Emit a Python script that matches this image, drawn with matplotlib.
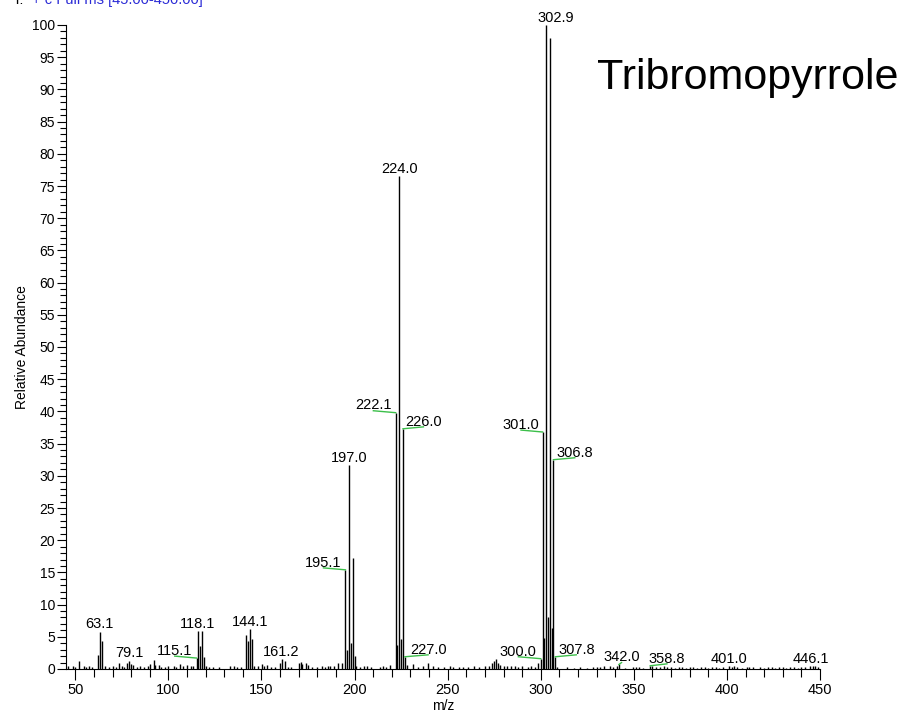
import matplotlib
matplotlib.use("Agg")
import matplotlib.pyplot as plt
from matplotlib.ticker import MultipleLocator
import numpy as np

plt.rcParams['font.family'] = ['Liberation Sans', 'DejaVu Sans']

# spectrum: m/z and relative abundance
mz = [45.9, 48.8, 50.1, 52.0, 54.5, 55.9, 57.2, 59.0, 62.0, 63.1,
      64.1, 66.1, 68.0, 70.0, 72.0, 73.3, 75.0, 76.0, 78.0, 79.1,
      80.0, 81.0, 83.0, 85.0, 87.0, 89.0, 90.3, 92.0, 93.0, 94.7,
      96.0, 98.0, 100.0, 102.8, 104.0, 106.4, 108.0, 110.0, 112.0, 113.0,
      115.1, 116.1, 117.1, 118.1, 119.1, 120.0, 122.0, 124.0, 127.0, 133.0,
      135.0, 137.0, 139.0, 141.9, 143.0, 144.1, 145.1, 146.2, 148.0, 150.4,
      151.5, 153.0, 155.0, 157.0, 159.9, 161.2, 162.9, 164.0, 166.0, 170.0,
      171.0, 172.0, 174.0, 175.0, 177.0, 180.0, 182.6, 184.0, 185.5, 187.0,
      189.0, 191.0, 193.2, 195.1, 196.0, 197.0, 198.0, 199.0, 200.0, 201.0,
      203.0, 205.0, 206.6, 209.0, 213.7, 215.4, 217.0, 219.0, 222.1, 223.0,
      224.0, 225.0, 226.0, 227.0, 228.0, 231.3, 234.0, 236.9, 239.5, 242.0,
      245.0, 248.0, 251.0, 253.0, 256.0, 258.0, 261.0, 264.0, 267.0, 270.0,
      272.0, 274.0, 275.0, 276.0, 277.0, 278.0, 280.0, 282.0, 284.0, 286.0,
      288.0, 290.0, 293.0, 295.0, 297.0, 298.6, 300.0, 301.0, 301.9, 302.9,
      303.9, 304.9, 305.9, 306.8, 307.8, 309.0, 314.0, 318.0, 321.0, 325.0,
      328.0, 330.0, 332.0, 334.0, 337.0, 339.0, 340.8, 342.0, 345.0, 349.6,
      351.0, 353.0, 355.0, 358.8, 360.0, 362.0, 364.0, 366.0, 368.0, 370.0,
      372.0, 374.0, 376.0, 378.0, 380.0, 382.0, 384.0, 386.0, 388.0, 390.0,
      392.0, 394.0, 396.0, 398.0, 401.0, 402.5, 404.0, 405.5, 408.0, 410.8,
      412.0, 414.0, 418.0, 420.0, 422.0, 424.0, 426.0, 428.0, 430.0, 432.0,
      434.0, 436.0, 438.0, 440.0, 442.0, 444.6, 446.1, 447.5, 449.0]
abundance = [0.4, 0.5, 0.3, 1.3, 0.5, 0.3, 0.4, 0.3, 2.1, 5.8,
             4.4, 0.5, 0.3, 0.4, 0.3, 1.0, 0.4, 0.3, 0.9, 1.3,
             0.8, 0.6, 0.3, 0.4, 0.3, 0.5, 0.8, 1.4, 0.6, 0.6,
             0.3, 0.3, 0.4, 0.5, 0.3, 0.8, 0.4, 0.6, 0.4, 0.5,
             1.7, 5.9, 3.5, 5.9, 1.8, 0.5, 0.3, 0.3, 0.3, 0.5,
             0.5, 0.3, 0.3, 5.3, 4.4, 6.2, 4.6, 0.5, 0.4, 0.8,
             0.5, 0.6, 0.3, 0.3, 0.9, 1.6, 1.3, 0.3, 0.3, 0.9,
             1.1, 0.8, 0.9, 0.6, 0.3, 0.3, 0.4, 0.3, 0.5, 0.4,
             0.5, 1.0, 0.9, 15.4, 3.0, 31.7, 4.0, 17.3, 2.0, 0.5,
             0.3, 0.5, 0.4, 0.3, 0.3, 0.4, 0.3, 0.6, 39.8, 3.7,
             76.5, 4.6, 37.3, 1.9, 0.6, 0.8, 0.3, 0.4, 1.0, 0.4,
             0.3, 0.3, 0.4, 0.3, 0.3, 0.3, 0.3, 0.4, 0.3, 0.4,
             0.5, 0.9, 1.2, 1.5, 0.9, 0.6, 0.5, 0.5, 0.4, 0.5,
             0.3, 0.4, 0.3, 0.5, 0.3, 1.0, 1.6, 36.8, 4.8, 100.0,
             8.0, 98.0, 6.4, 32.5, 1.9, 0.3, 0.3, 0.2, 0.3, 0.2,
             0.3, 0.3, 0.3, 0.4, 0.4, 0.3, 0.5, 0.7, 0.2, 0.3,
             0.3, 0.3, 0.2, 0.5, 0.4, 0.3, 0.3, 0.4, 0.3, 0.3,
             0.2, 0.3, 0.3, 0.2, 0.3, 0.3, 0.2, 0.3, 0.3, 0.2,
             0.3, 0.3, 0.2, 0.3, 0.5, 0.3, 0.4, 0.3, 0.2, 0.3,
             0.3, 0.3, 0.3, 0.2, 0.3, 0.3, 0.2, 0.3, 0.3, 0.2,
             0.3, 0.3, 0.2, 0.3, 0.3, 0.4, 0.5, 0.4, 0.3]

# labelled peaks
peak_labels = ["63.1", "79.1", "115.1", "118.1", "144.1", "161.2", "195.1",
               "197.0", "222.1", "224.0", "226.0", "227.0", "300.0", "301.0",
               "302.9", "306.8", "307.8", "342.0", "358.8", "401.0", "446.1"]

# where the label text sits relative to its peak (m/z units), and which get a leader
label_shift = {"115.1": -11.7, "118.1": -2.5, "161.2": -0.9, "195.1": -11.8,
               "222.1": -12.0, "226.0": 11.0, "227.0": 12.5, "300.0": -12.0,
               "301.0": -11.6, "302.9": 5.0, "306.8": 11.5, "307.8": 11.3,
               "342.0": 1.4, "358.8": 9.0, "446.1": -1.0}
leaders = {"115.1", "195.1", "222.1", "226.0", "227.0", "300.0", "301.0",
           "306.8", "307.8", "342.0", "358.8"}

fs = 10.5
fig = plt.figure(figsize=(9.09, 7.13), dpi=100)
ax = fig.add_axes([66 / 909, 1 - 669 / 713, (820 - 66) / 909, (669 - 25) / 713])

ax.vlines(mz, 0, abundance, color="black", lw=1.0)

for lab in peak_labels:
    x = float(lab)
    h = abundance[mz.index(x)]
    dx = label_shift.get(lab, 0.0)
    ax.annotate(lab, xy=(x + dx, h), xytext=(0, 2.3), textcoords="offset points",
                ha="center", va="baseline", fontsize=fs, annotation_clip=False)
    if lab in leaders:
        ax.plot([x + dx, x], [h + 0.3, h], color="#3cbf4a", lw=1.0, clip_on=False)

ax.set_xlim(45, 450)
ax.set_ylim(0, 100)
ax.xaxis.set_major_locator(MultipleLocator(50))
ax.xaxis.set_minor_locator(MultipleLocator(10))
ax.yaxis.set_major_locator(MultipleLocator(5))
ax.yaxis.set_minor_locator(MultipleLocator(1))
ax.tick_params(axis="x", which="major", direction="out", length=8, width=0.8, pad=2, labelsize=fs)
ax.tick_params(axis="x", which="minor", direction="out", length=5.5, width=0.8)
ax.tick_params(axis="y", which="major", direction="out", length=6.5, width=0.8, pad=1.5, labelsize=10)
ax.tick_params(axis="y", which="minor", direction="out", length=4.5, width=0.8)

for side in ["top", "right"]:
    ax.spines[side].set_visible(False)
for side in ["left", "bottom"]:
    ax.spines[side].set_linewidth(0.8)

ax.set_xlabel("m/z", fontsize=10)
ax.set_ylabel("Relative Abundance", fontsize=10)
ax.xaxis.set_label_coords(0.5, -0.046)
ax.yaxis.set_label_coords(-0.049, 0.5)

# scan header, cut off at the top edge like the original export
fig.text(13 / 909, 1 - 4 / 713, "T:", fontsize=fs, color="black", va="baseline")
fig.text(32 / 909, 1 - 4 / 713, "+ c Full ms [45.00-450.00]", fontsize=fs,
         color="#2b2bd6", va="baseline")

fig.text(597 / 909, 1 - 78 / 713, "Tribromopyrrole", fontsize=31, va="center", ha="left")

fig.savefig("out.png", dpi=100)
